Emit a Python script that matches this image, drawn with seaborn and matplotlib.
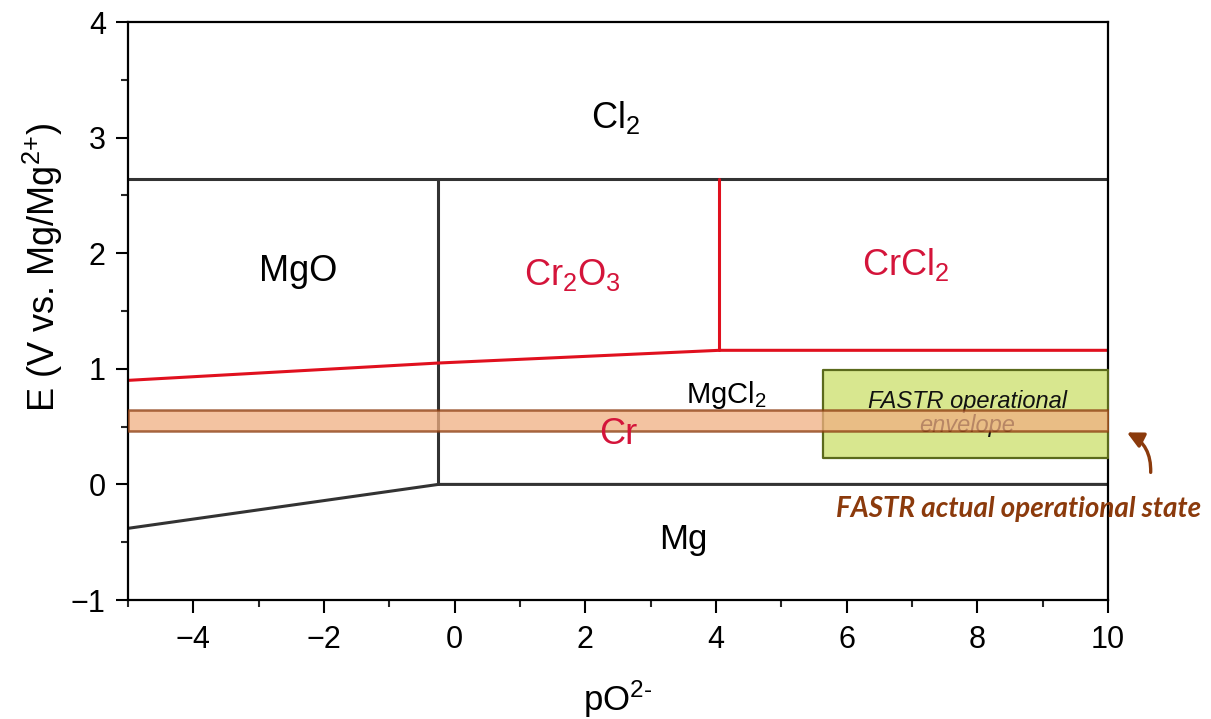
import matplotlib
matplotlib.use("Agg")
import matplotlib.pyplot as plt
import seaborn as sns
from matplotlib.ticker import MultipleLocator

# phase boundaries (pO2- vs E)
cl2_x = [-5, 10]
cl2_E = [2.64, 2.64]
mgo_x = [-0.25, -0.25]
mgo_E = [0.0, 2.64]
mg_x = [-5, -0.25, 10]
mg_E = [-0.38, 0.0, 0.0]
cr_x = [-5, -0.25, 4.05, 10]
cr_E = [0.90, 1.05, 1.16, 1.16]
crcl2_x = [4.05, 4.05]
crcl2_E = [1.16, 2.64]

# FASTR regions
envelope_x = [5.64, 10]
envelope_E = [0.23, 0.99]
actual_x = [-5, 10]
actual_E = [0.46, 0.64]

# region labels
black_labels = ["Cl$_2$", "MgO", "MgCl$_2$", "Mg"]
black_pos = [(2.46, 3.17), (-2.4, 1.84), (4.15, 0.77), (3.5, -0.48)]
black_size = [26, 26, 21, 25]
red_labels = ["Cr$_2$O$_3$", "CrCl$_2$", "Cr"]
red_pos = [(1.8, 1.81), (6.9, 1.9), (2.5, 0.43)]

sns.set_theme(style="ticks")
plt.rcParams["font.family"] = ["Liberation Sans", "DejaVu Sans"]
plt.rcParams["mathtext.fontset"] = "custom"
plt.rcParams["mathtext.rm"] = "Liberation Sans"
plt.rcParams["mathtext.it"] = "Liberation Sans:italic"
plt.rcParams["mathtext.bf"] = "Liberation Sans:bold"

fig, ax = plt.subplots(figsize=(12.11, 7.19), dpi=100)
fig.subplots_adjust(left=0.1057, right=0.915, bottom=0.1655, top=0.9694)

dark = "#333333"
red = "#e0101e"
red_txt = "#d4143a"
for xs, ys, c in [(cl2_x, cl2_E, dark), (mgo_x, mgo_E, dark), (mg_x, mg_E, dark),
                  (cr_x, cr_E, red), (crcl2_x, crcl2_E, red)]:
    sns.lineplot(x=xs, y=ys, sort=False, estimator=None, color=c, linewidth=2.2, ax=ax)

# operational envelope box
ax.fill_between(envelope_x, envelope_E[0], envelope_E[1], facecolor="#d8e78f",
                edgecolor="#5b6a1c", linewidth=1.6, zorder=3)
ax.text(7.85, 0.61, "FASTR operational\nenvelope", ha="center", va="center",
        fontsize=17, style="italic", color="#111111", linespacing=1.05, zorder=4)

# actual operational band
ax.fill_between(actual_x, actual_E[0], actual_E[1], facecolor="#f0af82",
                edgecolor="#8b3a0c", linewidth=1.8, alpha=0.75, zorder=5)

for lab, (x, y), fs in zip(black_labels, black_pos, black_size):
    ax.text(x, y, lab, ha="center", va="center", fontsize=fs, color="black", zorder=6)
for lab, (x, y) in zip(red_labels, red_pos):
    ax.text(x, y, lab, ha="center", va="center", fontsize=26, color=red_txt, zorder=6)

ax.annotate("", xy=(10.25, 0.46), xytext=(10.65, 0.08),
            arrowprops=dict(arrowstyle="-|>", color="#8b3a0c", lw=2.4,
                            mutation_scale=24, connectionstyle="arc3,rad=0.35"),
            annotation_clip=False)
ax.text(8.63, -0.21, "FASTR actual operational state", ha="center", va="center",
        fontsize=20, fontweight="bold", style="italic", color="#8b3a0c",
        family=["Lato", "DejaVu Sans"], clip_on=False)

ax.set_xlim(-5, 10)
ax.set_ylim(-1, 4)
ax.xaxis.set_major_locator(MultipleLocator(2))
ax.xaxis.set_minor_locator(MultipleLocator(1))
ax.yaxis.set_major_locator(MultipleLocator(1))
ax.yaxis.set_minor_locator(MultipleLocator(0.5))
ax.tick_params(which="major", direction="out", length=9, width=1.5, labelsize=22,
               color="black", labelcolor="black")
ax.tick_params(which="minor", direction="out", length=5, width=1.5)
ax.tick_params(axis="x", pad=9)
ax.tick_params(axis="y", pad=7)

for s in ax.spines.values():
    s.set_visible(True)
    s.set_linewidth(1.6)
    s.set_color("black")

ax.set_xlabel(r"pO$^{\text{2-}}$", fontsize=25, color="black")
ax.xaxis.set_label_coords(0.5, -0.136)
ax.set_ylabel(r"E (V vs. Mg/Mg$^{\text{2+}}$)", fontsize=26, color="black")
ax.yaxis.set_label_coords(-0.064, 0.576)

fig.savefig("out.png", dpi=100)
